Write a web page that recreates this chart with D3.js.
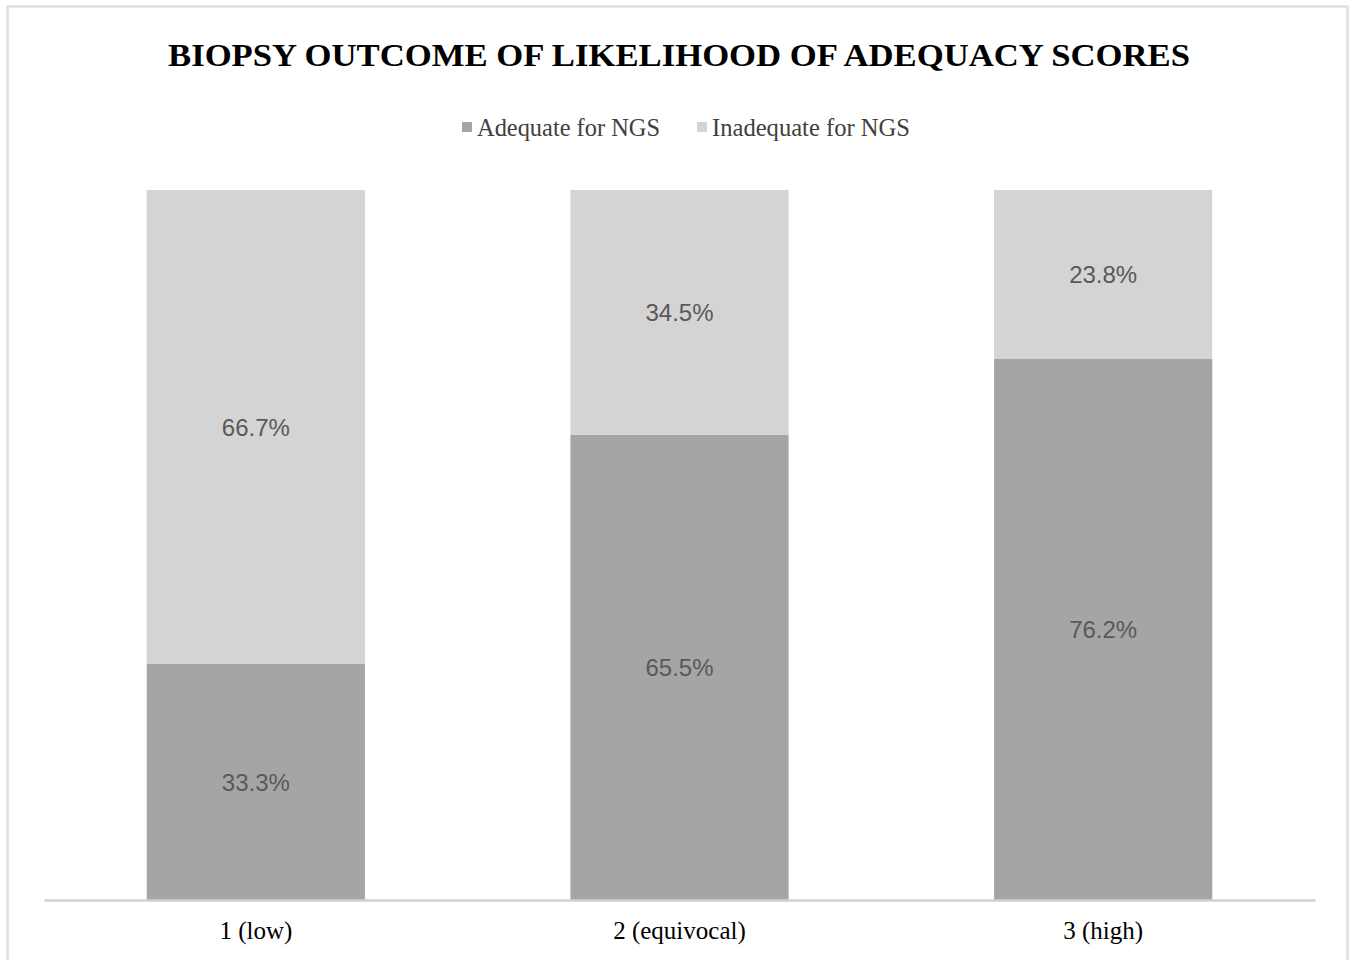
<!DOCTYPE html>
<html>
<head>
<meta charset="utf-8">
<script src="https://cdn.jsdelivr.net/npm/d3@7"></script>
<style>
  body { margin: 0; background: #fff; }
  svg { display: block; }
</style>
</head>
<body>
<div class="vis"></div>
<script>
const categories = ["1 (low)", "2 (equivocal)", "3 (high)"];
const adequate = [33.3, 65.5, 76.2];
const inadequate = [66.7, 34.5, 23.8];
const seriesNames = ["Adequate for NGS", "Inadequate for NGS"];
const seriesColors = ["#a5a5a5", "#d4d4d4"];

const W = 1352, H = 960;
const m = { left: 44, right: 37, top: 190, bottom: 60 };
const w = W - m.left - m.right, h = H - m.top - m.bottom;

const svg = d3.select(".vis").append("svg").attr("width", W).attr("height", H);

// chart border
svg.append("rect")
  .attr("x", 7.5).attr("y", 6.5).attr("width", 1340).attr("height", 960)
  .attr("fill", "none").attr("stroke", "#e0e0e0").attr("stroke-width", 2.5);

svg.append("text")
  .attr("x", W / 2 + 3).attr("y", 66)
  .attr("text-anchor", "middle")
  .attr("font-family", "Liberation Serif, Times New Roman, serif")
  .attr("font-weight", "bold").attr("font-size", 32)
  .attr("textLength", 1022).attr("lengthAdjust", "spacingAndGlyphs")
  .attr("fill", "#000")
  .text("BIOPSY OUTCOME OF LIKELIHOOD OF ADEQUACY SCORES");

// legend
const legendX = [462, 697];
const legendLen = [183, 198];
const lg = svg.append("g");
seriesNames.forEach((name, i) => {
  lg.append("rect").attr("x", legendX[i]).attr("y", 122).attr("width", 10).attr("height", 10)
    .attr("fill", seriesColors[i]);
  lg.append("text").attr("x", legendX[i] + 15).attr("y", 136)
    .attr("font-family", "Liberation Serif, Times New Roman, serif").attr("font-size", 25)
    .attr("textLength", legendLen[i]).attr("lengthAdjust", "spacingAndGlyphs")
    .attr("fill", "#404040").text(name);
});

const g = svg.append("g").attr("transform", `translate(${m.left},${m.top})`);

const x = d3.scaleBand().domain(categories).range([0, w]).paddingInner(0.485).paddingOuter(0.2425);
const y = d3.scaleLinear().domain([0, 100]).range([h, 0]);

const rows = categories.map((c, i) => ({ cat: c, a: adequate[i], b: inadequate[i] }));
const stack = d3.stack().keys(["a", "b"])(rows);

stack.forEach((layer, si) => {
  g.selectAll(`.bar-${si}`).data(layer).join("rect")
    .attr("class", `bar-${si}`)
    .attr("x", d => x(d.data.cat))
    .attr("width", x.bandwidth())
    .attr("y", d => y(d[1]))
    .attr("height", d => y(d[0]) - y(d[1]))
    .attr("fill", seriesColors[si]);

  g.selectAll(`.lbl-${si}`).data(layer).join("text")
    .attr("class", `lbl-${si}`)
    .attr("x", d => x(d.data.cat) + x.bandwidth() / 2)
    .attr("y", d => (y(d[0]) + y(d[1])) / 2 + 9)
    .attr("text-anchor", "middle")
    .attr("font-family", "Liberation Sans, Arial, sans-serif").attr("font-size", 24)
    .attr("fill", "#595959")
    .text(d => (d[1] - d[0]).toFixed(1) + "%");
});

const xAxis = g.append("g").attr("transform", `translate(0,${h})`)
  .call(d3.axisBottom(x).tickSize(0).tickPadding(21));
xAxis.select(".domain").attr("stroke", "#d0d0d0").attr("stroke-width", 2.5);
xAxis.selectAll("text")
  .attr("font-family", "Liberation Serif, Times New Roman, serif").attr("font-size", 25)
  .attr("fill", "#000");
</script>
</body>
</html>
